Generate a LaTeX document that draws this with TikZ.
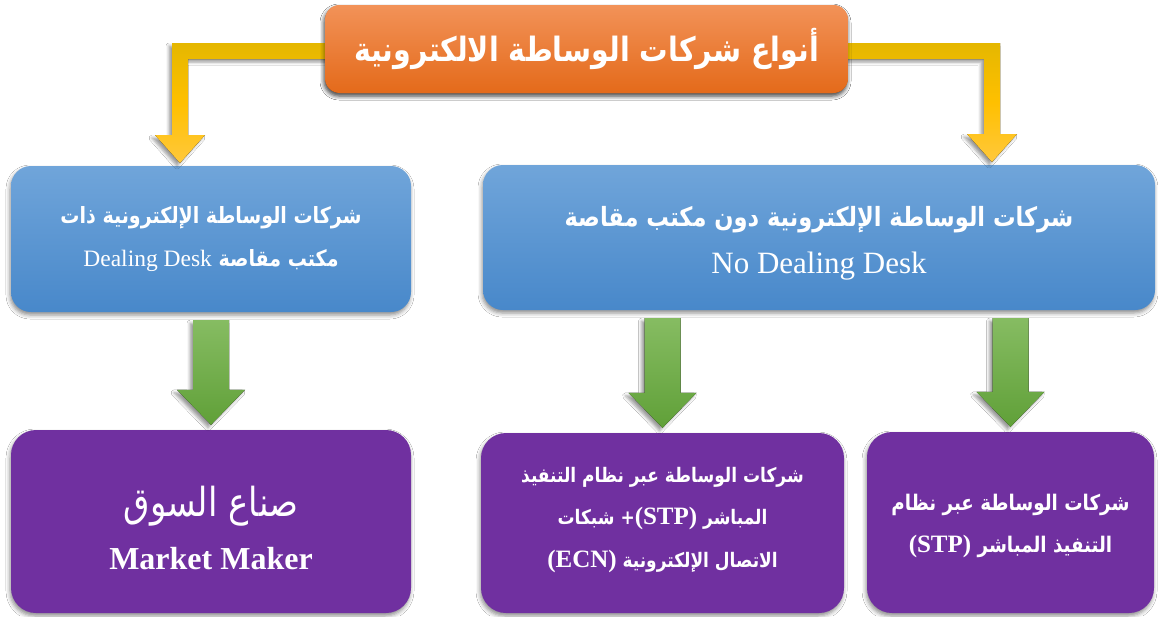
\documentclass[tikz,border=0pt]{standalone}
\usepackage{fontspec}
\setmainfont{Liberation Serif}
\newfontfamily\arabicfont[Script=Arabic,FakeStretch=0.85]{DejaVu Sans}
\TeXXeTstate=1
\usetikzlibrary{calc,shadows.blur}

\definecolor{orangetop}{RGB}{242,146,88}
\definecolor{orangebot}{RGB}{228,106,26}
\definecolor{bluetop}{RGB}{112,165,218}
\definecolor{bluebot}{RGB}{72,136,202}
\definecolor{boxpurple}{RGB}{112,48,160}
\definecolor{goldtop}{RGB}{229,183,0}
\definecolor{goldmid}{RGB}{255,192,0}
\definecolor{goldbot}{RGB}{255,200,60}
\definecolor{greentop}{RGB}{134,188,98}
\definecolor{greenbot}{RGB}{96,160,56}

\newcommand\lattext[1]{{\rmfamily\bfseries\fontsize{25}{25}\selectfont #1}}

\tikzset{
  softshadow/.style={blur shadow={shadow xshift=-1pt, shadow yshift=-3pt,
      shadow blur radius=4pt, shadow opacity=45}},
  arrowshadow/.style={blur shadow={shadow xshift=-3pt, shadow yshift=-3pt,
      shadow blur radius=3pt, shadow opacity=40}},
  headbox/.style={rectangle, rounded corners=15pt, top color=orangetop,
      bottom color=orangebot, text=white, align=center, inner sep=0pt, softshadow},
  bluebox/.style={rectangle, rounded corners=20pt, top color=bluetop,
      bottom color=bluebot, text=white, align=center, inner sep=0pt, softshadow},
  purplebox/.style={rectangle, rounded corners=25pt, fill=boxpurple,
      text=white, align=center, inner sep=0pt, softshadow},
  boxtext/.style={text=white, align=center, inner sep=0pt},
  goldarrow/.style={top color=goldtop, bottom color=goldbot, middle color=goldmid,
      arrowshadow},
  greenarrow/.style={top color=greentop, bottom color=greenbot, arrowshadow},
}

\begin{document}
\begin{tikzpicture}[x=1pt,y=-1pt]
  \useasboundingbox (0,0) rectangle (1158,616);
  \fill[white] (0,0) rectangle (1158,616);

  % second level: brokers with / without a dealing desk
  \node[bluebox, minimum width=400pt, minimum height=146pt,
        font=\arabicfont\bfseries\fontsize{22.4}{43}\selectfont] (dd) at (211,239)
    {\beginR شركات الوساطة الإلكترونية ذات\endR\\
     \beginR مكتب مقاصة \beginL{\rmfamily\mdseries\fontsize{23.5}{43}\selectfont Dealing Desk}\endL\endR};
  \node[bluebox, minimum width=672pt, minimum height=145pt] (ndd) at (819,237.5) {};
  \node[boxtext, font=\arabicfont\bfseries\fontsize{26.5}{47}\selectfont]
    (nddtext) at ($(ndd)+(0,6)$)
    {\beginR شركات الوساطة الإلكترونية دون مكتب مقاصة\endR\\
     {\rmfamily\mdseries\fontsize{31}{47}\selectfont No Dealing Desk}};

  % third level: broker models
  \node[purplebox, minimum width=400pt, minimum height=183pt] (mm) at (211,521.5) {};
  \node[boxtext, font=\fontsize{32}{53}\selectfont] (mmtext) at ($(mm)+(0,6)$)
    {{\arabicfont\fontsize{40}{53}\selectfont\beginR صناع السوق\endR}\\
     {\rmfamily\bfseries Market Maker}};
  \node[purplebox, minimum width=363pt, minimum height=180pt] (ecn) at (662.5,523) {};
  \node[boxtext, font=\arabicfont\bfseries\fontsize{20}{42.5}\selectfont]
    (ecntext) at ($(ecn)+(0,-3)$)
    {\beginR شركات الوساطة عبر نظام التنفيذ\endR\\
     \beginR المباشر \beginL\lattext{(STP)}\endL+ شبكات\endR\\
     \beginR الاتصال الإلكترونية \beginL\lattext{(ECN)}\endL\endR};
  \node[purplebox, minimum width=287pt, minimum height=181pt] (stp) at (1010.5,522.5) {};
  \node[boxtext, font=\arabicfont\bfseries\fontsize{21.5}{42}\selectfont]
    (stptext) at ($(stp)+(0,3)$)
    {\beginR شركات الوساطة عبر نظام\endR\\
     \beginR التنفيذ المباشر \beginL\lattext{(STP)}\endL\endR};

  % green arrows from the second level down to the models
  \foreach \src/\dst/\nm in {dd/mm/gA, ndd/ecn/gB, ndd/stp/gC} {
    \coordinate (\nm) at ($(\dst.north)+(0,-5)$);
    \fill[greenarrow]
      ($(\nm |- \src.south)+(-18,8)$) -- ($(\nm)+(-18,-35)$) -- ($(\nm)+(-34,-35)$)
      -- (\nm) -- ($(\nm)+(34,-35)$) -- ($(\nm)+(18,-35)$)
      -- ($(\nm |- \src.south)+(18,8)$) -- cycle;
  }

  % gold elbow arrows leaving the title
  \coordinate (tipL) at (180,163);
  \coordinate (tipR) at (992,162);
  \node[headbox, minimum width=523pt, minimum height=88pt] (title) at (586.5,49) {};
  \fill[goldarrow]
    ($(title.west)+(6,-6)$) -| ($(tipL)+(-8,-28)$) -- ($(tipL)+(-25,-28)$)
    -- (tipL) -- ($(tipL)+(25,-28)$) -- ($(tipL)+(8,-28)$)
    |- ($(title.west)+(6,10)$) -- cycle;
  \fill[goldarrow]
    ($(title.east)+(-6,-6)$) -| ($(tipR)+(8,-28)$) -- ($(tipR)+(25,-28)$)
    -- (tipR) -- ($(tipR)+(-25,-28)$) -- ($(tipR)+(-8,-28)$)
    |- ($(title.east)+(-6,10)$) -- cycle;

  % title box drawn over the arrow roots
  \node[headbox, minimum width=523pt, minimum height=88pt,
        font=\arabicfont\bfseries\fontsize{33.5}{38}\selectfont] (titletext) at (title)
    {\beginR أنواع شركات الوساطة الالكترونية\endR};
\end{tikzpicture}
\end{document}
